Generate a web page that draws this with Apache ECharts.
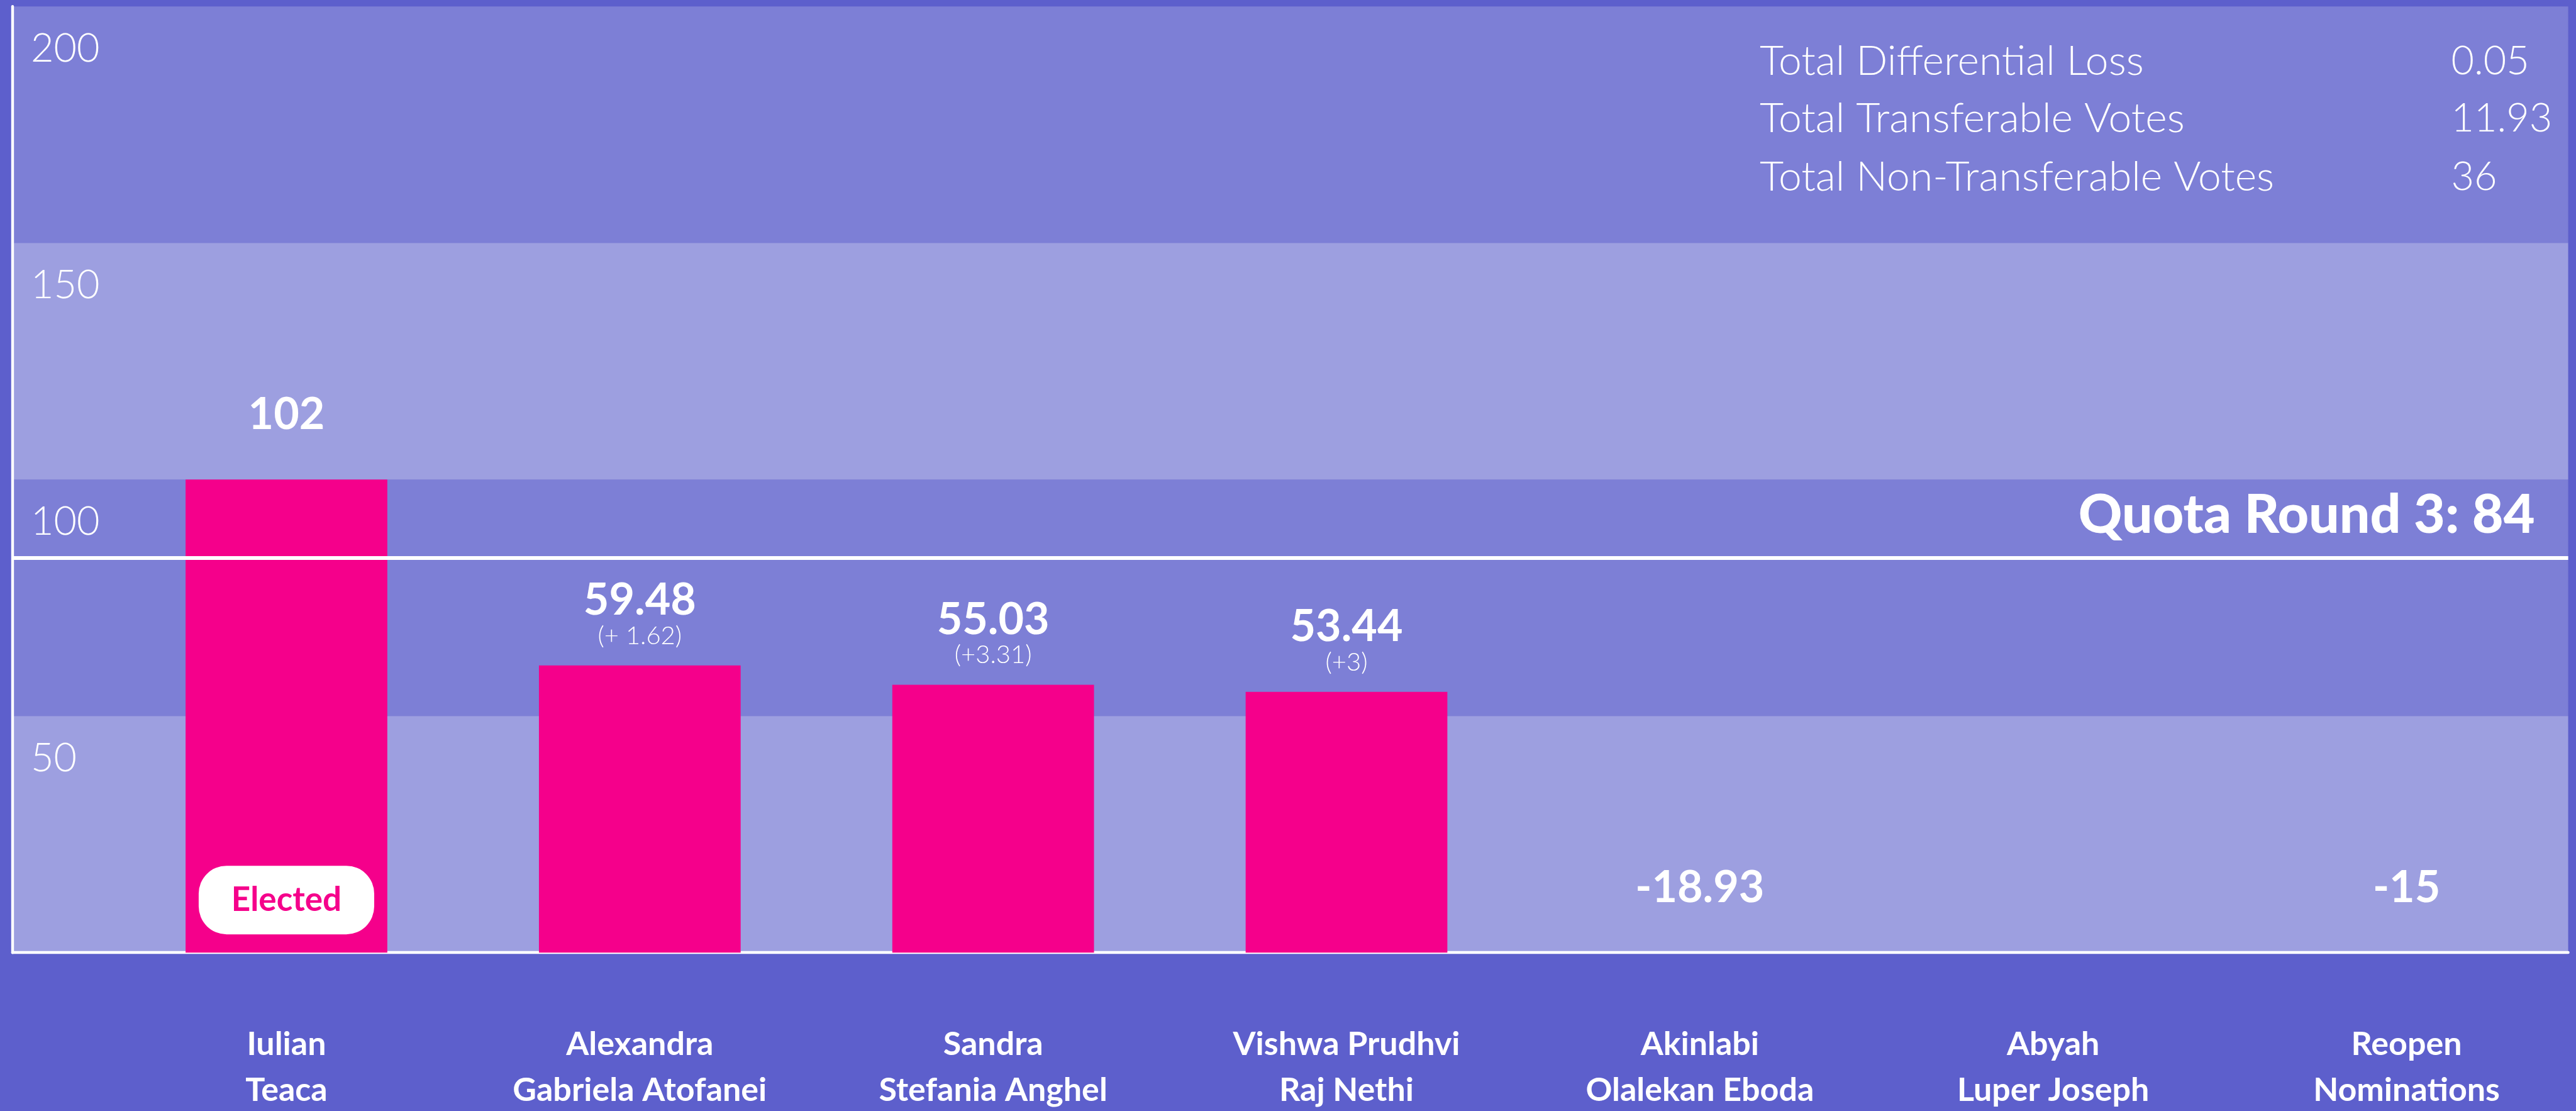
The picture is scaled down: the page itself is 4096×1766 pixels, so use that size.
<!DOCTYPE html>
<html>
<head>
<meta charset="utf-8">
<title>Round 3</title>
<script src="https://cdn.jsdelivr.net/npm/echarts@6/dist/echarts.min.js"></script>
<style>
html, body { margin: 0; padding: 0; background: #5D5FCC; }
#chart { width: 4096px; height: 1766px; }
</style>
</head>
<body>
<div id="chart"></div>
<script>
// candidates of round 3
var candidates = [
  'Iulian\nTeaca',
  'Alexandra\nGabriela Atofanei',
  'Sandra\nStefania Anghel',
  'Vishwa Prudhvi\nRaj Nethi',
  'Akinlabi\nOlalekan Eboda',
  'Abyah\nLuper Joseph',
  'Reopen\nNominations'
]
// bar heights as drawn in the picture
var barHeights = [100, 60.7, 56.6, 55.1, 0, 0, 0]
var voteLabels = ['102', '59.48', '55.03', '53.44', '-18.93', '', '-15']
var changeLabels = ['', '(+ 1.62)', '(+3.31)', '(+3)', '', '', '']
var elected = [true, false, false, false, false, false, false]

var quotaLine = 83.4
var quotaText = 'Quota Round 3: 84'

var statNames = ['Total Differential Loss', 'Total Transferable Votes', 'Total Non-Transferable Votes']
var statValues = ['0.05', '11.93', '36']

var S = 0.886
var FONT = 'Lato, "Open Sans", sans-serif'
var gridTop = 11.5 * S
var gridBottom = 1766 - 1709 * S

var myChart = echarts.init(document.getElementById('chart'))

var statRows = [110, 213.5, 318]
var graphics = []
statNames.forEach(function (name, i) {
  graphics.push({
    type: 'text',
    x: 3158 * S,
    y: statRows[i] * S,
    silent: true,
    style: { text: name, fill: '#fff', fontSize: 66, fontWeight: 300, fontFamily: FONT, verticalAlign: 'middle' }
  })
  graphics.push({
    type: 'text',
    x: 4399 * S,
    y: statRows[i] * S,
    silent: true,
    style: { text: statValues[i], fill: '#fff', fontSize: 63, fontWeight: 300, fontFamily: FONT, verticalAlign: 'middle' }
  })
})

var option = {
  backgroundColor: '#5D5FCC',
  animation: false,
  textStyle: { fontFamily: FONT },
  grid: [
    { left: 22.5 * S, right: 4096 - 4609 * S, top: gridTop, bottom: gridBottom, outerBoundsMode: 'none' },
    { left: 197 * S, width: 4439 * S, top: gridTop, bottom: gridBottom, outerBoundsMode: 'none' }
  ],
  xAxis: [
    {
      gridIndex: 0,
      type: 'value',
      min: 0,
      max: 1,
      axisLine: { show: true, lineStyle: { color: '#fff', width: 5 * S } },
      axisTick: { show: false },
      axisLabel: { show: false },
      splitLine: { show: false }
    },
    {
      gridIndex: 1,
      type: 'category',
      data: candidates,
      axisLine: { show: false },
      axisTick: { show: false },
      axisLabel: {
        interval: 0,
        color: '#fff',
        fontSize: 52,
        fontWeight: 'bold',
        lineHeight: 73,
        margin: 110
      }
    }
  ],
  yAxis: [
    {
      gridIndex: 0,
      type: 'value',
      min: 0,
      max: 200,
      interval: 50,
      axisLine: { show: true, lineStyle: { color: '#fff', width: 5 * S } },
      axisTick: { show: false },
      splitLine: { show: false },
      splitArea: {
        show: true,
        areaStyle: { color: ['rgba(255,255,255,0.4)', 'rgba(255,255,255,0.2)'] }
      },
      axisLabel: {
        inside: true,
        margin: 29,
        verticalAlign: 'top',
        padding: [36, 0, 0, 0],
        color: '#fff',
        fontSize: 63,
        fontWeight: 300,
        formatter: function (v) { return v === 0 ? '' : String(v) }
      }
    },
    { gridIndex: 1, type: 'value', min: 0, max: 200, interval: 50, show: false }
  ],
  series: [
    {
      type: 'line',
      xAxisIndex: 0,
      yAxisIndex: 0,
      data: [],
      silent: true,
      markLine: {
        silent: true,
        symbol: ['none', 'none'],
        lineStyle: { color: '#fff', width: 6, type: 'solid' },
        label: {
          show: true,
          position: 'insideEndTop',
          formatter: quotaText,
          color: '#fff',
          fontSize: 86,
          fontWeight: 900,
          fontFamily: FONT,
          distance: [53, 25]
        },
        data: [{ yAxis: quotaLine }]
      }
    },
    {
      type: 'bar',
      xAxisIndex: 1,
      yAxisIndex: 1,
      barWidth: 362 * S,
      data: barHeights,
      itemStyle: { color: '#F5008B' },
      label: {
        show: true,
        position: 'top',
        distance: 27,
        fontFamily: FONT,
        formatter: function (p) {
          var i = p.dataIndex
          if (!voteLabels[i]) return ''
          return '{a|' + voteLabels[i] + '}\n{b|' + (changeLabels[i] || ' ') + '}'
        },
        rich: {
          a: { color: '#fff', fontSize: 70, fontWeight: 'bold', lineHeight: 72 },
          b: { color: '#fff', fontSize: 40, fontWeight: 300, lineHeight: 40 }
        }
      }
    },
    {
      type: 'bar',
      xAxisIndex: 1,
      yAxisIndex: 1,
      barWidth: 362 * S,
      barGap: '-100%',
      silent: true,
      z: 3,
      data: barHeights.map(function (v, i) { return elected[i] ? v : '-' }),
      itemStyle: { color: 'rgba(0,0,0,0)' },
      label: {
        show: true,
        position: 'insideBottom',
        distance: 29,
        fontFamily: FONT,
        formatter: '{e|Elected}',
        rich: {
          e: {
            width: 315 * S,
            height: 123 * S,
            lineHeight: 123 * S,
            align: 'center',
            backgroundColor: '#fff',
            borderRadius: 50 * S,
            color: '#F5008B',
            fontSize: 53,
            fontWeight: 'bold'
          }
        }
      }
    }
  ],
  graphic: graphics
}

myChart.setOption(option)
</script>
</body>
</html>
